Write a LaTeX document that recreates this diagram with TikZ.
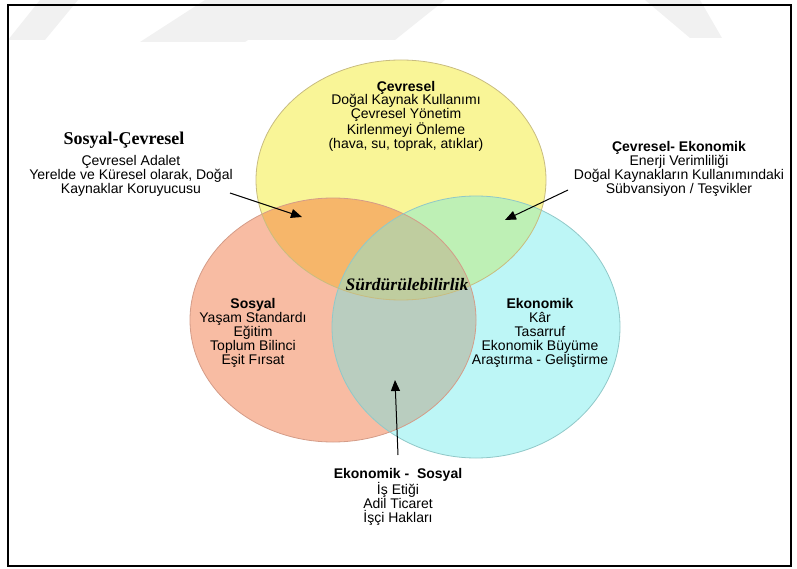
\documentclass[tikz,border=0pt]{standalone}
\usepackage{fontspec}
\setmainfont{Liberation Sans}
\newfontfamily\timesf{Liberation Serif}
\usetikzlibrary{arrows.meta}
\definecolor{cyel}{HTML}{F9F597}
\definecolor{csal}{HTML}{F8BCA3}
\definecolor{ccya}{HTML}{BDF6F6}
\definecolor{cys}{HTML}{F6B66A}
\definecolor{cyc}{HTML}{BEF0B5}
\definecolor{csc}{HTML}{B9CDBF}
\definecolor{call}{HTML}{BFCD9F}
\definecolor{lyel}{HTML}{C8BC80}
\definecolor{lsal}{HTML}{D49C88}
\definecolor{lcya}{HTML}{90C8C8}
\definecolor{wm}{HTML}{F1F1F1}
\begin{document}
\begin{tikzpicture}[x=1pt,y=-1pt,
  txt/.style={align=center,inner sep=0pt,font=\fontsize{14}{13.8}\selectfont},
  arr/.style={line width=1pt,-{Triangle[length=11pt,width=9pt]}},
  yel/.style={x radius=145pt,y radius=120pt},
  sal/.style={x radius=143pt,y radius=122pt},
  cya/.style={x radius=144pt,y radius=131pt}]
\useasboundingbox (0,0) rectangle (797,569);
% watermark stripes
\fill[wm] (40,0) -- (78,0) -- (45,40) -- (8,40) -- cycle;
\fill[wm] (205,0) -- (310,0) -- (245,42) -- (140,42) -- cycle;
\fill[wm] (290,0) -- (445,0) -- (395,40) -- (245,40) -- cycle;
\fill[wm] (645,0) -- (700,0) -- (722,38) -- (690,38) -- cycle;
% ellipse centres
\coordinate (Y) at (401,180);
\coordinate (S) at (333,320);
\coordinate (C) at (476,327);
% fills
\fill[csal] (S) ellipse [sal];
\fill[ccya] (C) ellipse [cya];
\fill[cyel] (Y) ellipse [yel];
\begin{scope}
  \clip (Y) ellipse [yel];
  \fill[cys] (S) ellipse [sal];
  \fill[cyc] (C) ellipse [cya];
\end{scope}
\begin{scope}
  \clip (S) ellipse [sal];
  \fill[csc] (C) ellipse [cya];
  \clip (C) ellipse [cya];
  \fill[call] (Y) ellipse [yel];
\end{scope}
% outlines
\draw[lsal,line width=0.8pt] (S) ellipse [sal];
\draw[lcya,line width=0.8pt] (C) ellipse [cya];
\draw[lyel,line width=0.8pt] (Y) ellipse [yel];
% frame
\draw[line width=2.5pt] (8,5) rectangle (791,566);
% texts
\node[txt] (cev) at (406,116) {\textbf{Çevresel}\\Doğal Kaynak Kullanımı\\Çevresel Yönetim\\Kirlenmeyi Önleme\\(hava, su, toprak, atıklar)};
\node[inner sep=0pt,font=\timesf\bfseries\fontsize{18}{18}\selectfont] (sct) at (124,140) {Sosyal-Çevresel};
\node[txt,font=\fontsize{14}{13}\selectfont] (sc) at (131,176) {Çevresel Adalet\\Yerelde ve Küresel olarak, Doğal\\Kaynaklar Koruyucusu};
\node[txt] (ce) at (679,169) {\textbf{Çevresel- Ekonomik}\\Enerji Verimliliği\\Doğal Kaynakların Kullanımındaki\\Sübvansiyon / Teşvikler};
\node[inner sep=0pt,font=\timesf\bfseries\itshape\fontsize{17.5}{17.5}\selectfont] (sur) at (407,285) {Sürdürülebilirlik};
\node[txt] (sos) at (253,333) {\textbf{Sosyal}\\Yaşam Standardı\\Eğitim\\Toplum Bilinci\\Eşit Fırsat};
\node[txt] (eko) at (540,333) {\textbf{Ekonomik}\\Kâr\\Tasarruf\\Ekonomik Büyüme\\Araştırma - Geliştirme};
\node[txt] (es) at (398,497) {\textbf{Ekonomik -\ \ Sosyal}\\İş Etiği\\Adil Ticaret\\İşçi Hakları};
% arrows
\coordinate (a1s) at (230,193);
\coordinate (a1e) at (302,217);
\coordinate (a2s) at (568,190);
\coordinate (a2e) at (505,220);
\coordinate (a3s) at (398,455);
\coordinate (a3e) at (395,380);
\draw[arr] (a1s) -- (a1e);
\draw[arr] (a2s) -- (a2e);
\draw[arr] (a3s) -- (a3e);
\end{tikzpicture}
\end{document}
